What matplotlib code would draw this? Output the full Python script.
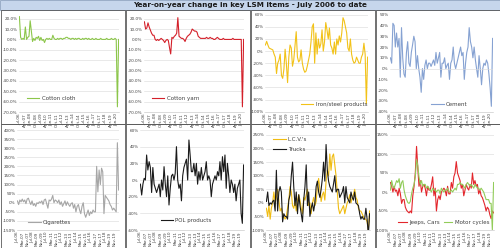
import matplotlib

matplotlib.use("Agg")
import matplotlib.dates as mdates
import matplotlib.pyplot as plt
import numpy as np
import pandas as pd
from matplotlib.patches import Rectangle
from matplotlib.ticker import FixedLocator, FuncFormatter

# bi-monthly readings, Jul-06 .. May-20
dates = pd.date_range("2006-07-01", periods=84, freq="2MS")

cotton_cloth = [
    22, 2, 0, 1, 0, 12, 0, 2, 3, 18,
    8, -2, 1, -1, 2, 1, 3, -1, 2, -1,
    0, -3, 0, 1, 0, 1, 0, 0, 4, 1,
    0, 0, 1, 0, 1, 1, 0, 1, 1, 2,
    2, 1, 1, 0, 1, 1, 0, 1, 0, 1,
    1, 0, 0, 1, 0, 1, 1, 0, 1, 0,
    0, 1, 0, 0, 1, 0, 0, 0, 1, 0,
    0, 0, 0, 1, 0, 0, 0, 1, 0, 0,
    1, 0, -65, 0,
]
cotton_yarn = [
    17, 10, 11, 16, 12, 9, 6, 4, 4, 0,
    -1, 0, -1, 0, 1, 0, -1, -3, -1, 0,
    -1, -8, -14, 2, 1, 3, 4, 6, 21, 3,
    2, 1, 1, 0, -2, 1, 3, 4, 5, 7,
    10, 9, 8, 8, 7, 3, 2, 1, 1, 1,
    1, 1, 2, 1, 1, 2, 1, 1, 0, 0,
    1, 2, 1, 0, 0, 0, 1, 0, 0, 0,
    0, 0, 0, 0, 1, 0, 0, 0, 0, 0,
    0, 0, -65, 0,
]
iron_steel = [
    10, 16, 10, 5, 4, 3, 2, -5, -10, -37,
    -20, -15, -5, -40, -45, -30, 3, -20, -52, -10,
    10, 5, -25, -15, 8, 32, -10, -18, -15, 2,
    -20, -30, -35, -33, -25, -15, -5, 15, 40, 45,
    -20, 30, -5, 20, 5, 12, 35, 0, 15, 47,
    35, 20, 38, 10, 5, -5, 15, -5, 20, 10,
    25, 15, 30, 55, 50, 40, 30, 5, 0, 20,
    -5, -15, -20, -18, -10, -15, -20, -20, -10, -5,
    13, -5, -87, -10,
]
cement = [
    10, 5, 42, 40, 20, 33, 20, 28, -8, 38,
    10, -5, -8, 15, 25, 5, 2, 15, 22, 30,
    25, 0, 12, 0, -8, -22, 0, -10, 3, 8,
    0, 5, 5, 2, 5, 8, 3, 15, 5, 10,
    15, -8, 5, 5, 10, 0, 3, 5, -10, 5,
    8, 20, 5, 0, 5, 10, 15, 20, 12, 15,
    -10, 5, 15, 20, 38, 25, 20, 10, 20, 8,
    0, -8, 12, 0, -15, 0, 5, 3, 8, 5,
    -5, -18, -35, 28,
]
cigarettes = [
    10, -10, 15, 5, 20, 5, 15, -5, 20, 25,
    5, -10, 10, -15, -5, -20, 0, -5, 5, 0,
    10, -10, 15, 20, -5, -30, 15, 10, 20, 40,
    0, 15, 10, 0, 15, -10, 5, -20, -5, 10,
    -15, 5, -10, -20, -5, 0, -30, -10, -50, -20,
    -10, -40, -60, -20, 0, -60, -80, -60, -40, -70,
    -50, -60, -40, -50, -50, 200, 60, 180, 100, 190,
    170, -60, 40, 30, 20, 10, -10, -20, -40, -30,
    -40, -50, 330, 70,
]
pol_products = [
    -5, -18, -5, 2, 0, 30, 12, 22, 15, -15,
    15, -5, -10, -15, -10, -5, -20, 0, -12, 16,
    -5, -20, 5, -30, -10, 5, 7, 0, 8, 40,
    0, -10, -5, -25, 5, 15, 20, 25, 0, 48,
    30, 10, 10, 20, 5, 20, -5, 10, 0, 15,
    0, 5, 10, 22, 0, 5, 0, -20, -5, 0,
    5, 0, 10, 5, 22, 0, 28, 10, 30, -10,
    20, 5, -15, 0, -5, -15, -5, -25, -10, -5,
    0, -40, -52, 18,
]
lcvs = [
    -20, -50, -10, -60, -20, 0, 40, 0, 20, 50,
    10, -30, -20, -40, -50, -60, -50, -20, 10, 60,
    40, -10, -20, 5, -30, 10, 30, 10, -20, -40,
    20, 10, 30, 50, -10, 0, -40, 0, 20, -10,
    5, 60, 90, 50, 5, 30, 40, 10, 80, 120,
    100, 180, 120, 170, 180, 140, 100, 40, -20, -40,
    -30, -20, -10, -40, -20, 0, 10, 30, 0, 20,
    30, 50, 20, 10, -20, -30, -30, -40, -50, -60,
    -60, -70, -100, -30,
]
trucks = [
    5, 40, -10, 0, -5, 5, 10, -30, 120, -30,
    40, 60, 40, -70, -40, -50, -50, -60, 10, 30,
    100, 150, 60, -10, 40, -40, 30, -10, -40, -70,
    10, 60, 140, -10, 40, -50, -20, 0, -30, 0,
    60, 80, 40, 20, 50, 90, 150, 80, 215, 120,
    80, 60, 50, 40, 70, 100, 40, 50, 50, 20,
    30, 40, 60, 0, 60, 20, 10, 0, 40, 20,
    10, 40, 0, -5, -10, -40, -60, -50, -60, -60,
    -20, -60, -120, -40,
]
jeeps_cars = [
    25, 15, 0, 15, 2, 5, -10, 10, -5, -30,
    -20, -20, -40, -48, -52, -55, -50, -55, -10, 15,
    50, 120, 65, 15, 30, 0, 15, 20, 10, -10,
    15, 5, 5, 20, 40, -10, 10, -50, -20, -10,
    -20, 0, 5, 10, 5, -10, 15, -5, -5, 25,
    10, 40, 50, 80, 50, 40, 30, 10, 20, -10,
    5, 20, 10, 5, 20, 10, 50, 20, 30, 15,
    20, -5, 5, -10, -15, -25, -35, -50, -40, -45,
    -60, -70, -50, -55,
]
motor_cycles = [
    5, 30, 15, 10, 20, 30, 25, 35, 10, 25,
    30, 5, -10, -20, -28, -30, -25, -5, 10, 20,
    40, 85, 70, 40, 20, 30, 15, 20, 20, 10,
    15, 10, 5, 0, 10, 5, 5, 0, 5, 5,
    -5, 10, 5, 0, 5, 5, 10, 0, 0, 5,
    0, 5, 10, 5, 20, 20, 25, 20, 20, 15,
    10, 20, 25, 20, 15, 20, 15, 10, 20, 15,
    10, 10, 5, 10, 5, 0, -10, -20, -20, -20,
    -30, -30, -100, 25,
]

W, H = 500, 248
TITLE = "Year-on-year change in key LSM items - July 2006 to date"


def px_rect(x0, y0, x1, y1):
    return [x0 / W, 1 - y1 / H, (x1 - x0) / W, (y1 - y0) / H]


def draw_panel(fig, box, lines, ylim, step, decimals, tick_months, grid=True,
               legend_anchor=(0.05, 0.1), legend_loc="lower left", ncol=1,
               handlelength=2.2, columnspacing=1.2):
    ax = fig.add_axes(px_rect(*box))
    for values, label, color in lines:
        ax.plot(dates, values, color=color, lw=0.8, label=label)
    ax.set_ylim(*ylim)
    ax.set_xlim(dates[0] - pd.Timedelta(days=20), dates[-1] + pd.Timedelta(days=20))
    yticks = np.arange(ylim[0], ylim[1] + 0.01, step)
    ax.yaxis.set_major_locator(FixedLocator(yticks))
    ax.yaxis.set_major_formatter(FuncFormatter(lambda v, _: f"{v:.{decimals}f}%"))
    if grid:
        ax.grid(axis="y", color="#d9d9d9", lw=0.4)
    else:
        ax.axhline(0, color="#d9d9d9", lw=0.4)
    xticks = pd.date_range(dates[0], dates[-1], freq=f"{tick_months}MS")
    ax.set_xticks(xticks)
    ax.xaxis.set_major_formatter(mdates.DateFormatter("%b-%y"))
    ax.tick_params(axis="x", labelrotation=90, labelsize=3, length=0, pad=1, colors="#404040")
    ax.tick_params(axis="y", labelsize=3, length=0, pad=1, colors="#404040")
    for side in ("top", "right", "left"):
        ax.spines[side].set_visible(False)
    ax.spines["bottom"].set_color("#bfbfbf")
    ax.spines["bottom"].set_linewidth(0.4)
    ax.set_axisbelow(True)
    ax.legend(loc=legend_loc, bbox_to_anchor=legend_anchor, frameon=False, fontsize=4,
              handlelength=handlelength, handletextpad=0.4, borderaxespad=0, labelspacing=0.9,
              ncol=ncol, columnspacing=columnspacing, labelcolor="#404040")
    return ax


def main() -> None:
    fig = plt.figure(figsize=(W / 100, H / 100), dpi=100)

    # title bar
    fig.add_artist(Rectangle((0, 1 - 10 / H), 1, 10 / H, transform=fig.transFigure,
                             facecolor="#c6d6ec", edgecolor="#8ea3c0", lw=0.6))
    fig.text(0.5, 1 - 5 / H, TITLE, ha="center", va="center", fontsize=5.2,
             fontweight="bold", color="#1a1a1a")

    # panel frames
    for col in range(4):
        for top, bottom in ((10, 123.5), (124, 247.5)):
            x0 = col * 125 + 0.5
            fig.add_artist(Rectangle((x0 / W, 1 - bottom / H), 124 / W, (bottom - top) / H,
                                     transform=fig.transFigure, facecolor="none",
                                     edgecolor="#595959", lw=0.6))

    draw_panel(fig, (19, 13.5, 119, 112), [(cotton_cloth, "Cotton cloth", "#8cc64a")],
               (-70, 25), 10, 1, 9, legend_anchor=(0.06, 0.09))
    draw_panel(fig, (144, 13.5, 244, 112), [(cotton_yarn, "Cotton yarn", "#d4202a")],
               (-70, 25), 10, 1, 9, legend_anchor=(0.06, 0.09))
    draw_panel(fig, (265, 14.7, 368, 111.7), [(iron_steel, "Iron/steel products", "#f2c218")],
               (-100, 60), 20, 0, 9, legend_anchor=(0.33, 0.03))
    draw_panel(fig, (390, 14.7, 493, 111.7), [(cement, "Cement", "#86a2d2")],
               (-40, 50), 10, 0, 9, grid=False, legend_anchor=(0.38, 0.03))

    draw_panel(fig, (17, 130, 119, 230), [(cigarettes, "Cigarettes", "#a6a6a6")],
               (-150, 400), 50, 0, 8, legend_anchor=(0.09, 0.03))
    draw_panel(fig, (140, 130, 244, 230), [(pol_products, "POL products", "#1a1a1a")],
               (-60, 60), 20, 0, 8, legend_anchor=(0.18, 0.05))
    draw_panel(fig, (266, 135, 370, 230),
               [(lcvs, "L.C.V.'s", "#f0bc12"), (trucks, "Trucks", "#1a1a1a")],
               (-100, 250), 50, 0, 8, legend_anchor=(0.05, 1.0), legend_loc="upper left")
    draw_panel(fig, (390, 135, 494, 230),
               [(jeeps_cars, "Jeeps, Cars", "#e3262c"), (motor_cycles, "Motor cycles", "#92cc5a")],
               (-100, 150), 50, 0, 8, legend_anchor=(0.06, 0.03), ncol=2,
               handlelength=1.6, columnspacing=0.6)

    fig.savefig("out.png", dpi=100)
    plt.close(fig)


if __name__ == "__main__":
    main()
